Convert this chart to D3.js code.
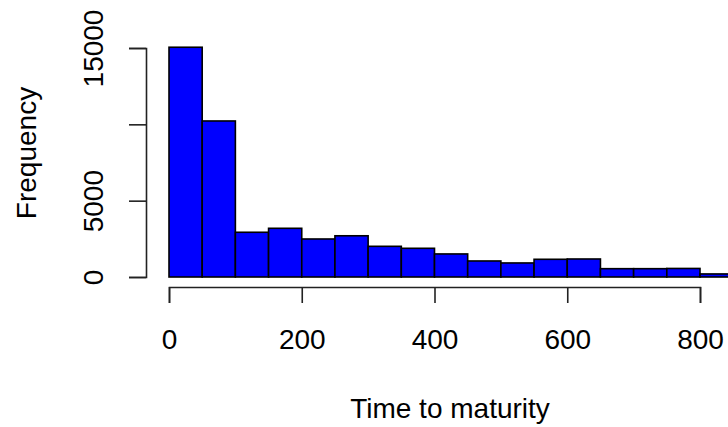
<!DOCTYPE html>
<html>
<head>
<meta charset="utf-8">
<script src="https://cdn.jsdelivr.net/npm/d3@7"></script>
<style>
  body { margin: 0; background: #fff; }
  text { font-family: "Liberation Sans", Arial, sans-serif; fill: #000; }
</style>
</head>
<body>
<svg width="728" height="427"></svg>
<script>
// histogram bins (days) and counts
let binStarts = [0, 50, 100, 150, 200, 250, 300, 350, 400, 450, 500, 550, 600, 650, 700, 750, 800]
let binWidth = 50
let counts = [15050, 10220, 2930, 3190, 2490, 2700, 2010, 1880, 1510, 1050, 920, 1160, 1180, 545, 545, 560, 200]
let xTicks = [0, 200, 400, 600, 800]
let yTicks = [0, 5000, 10000, 15000]
// R drops the 10000 label because it would overlap its neighbours
let yLabels = ['0', '5000', '', '15000']
let xTitle = 'Time to maturity', yTitle = 'Frequency'

let svg = d3.select('svg')

let x = d3.scaleLinear().domain([0, 800]).range([169, 700])
let y = d3.scaleLinear().domain([0, 15000]).range([277, 48])

let bins = binStarts.map(function (s, i) { return {x0: s, x1: s + binWidth, n: counts[i]} })

svg.selectAll('rect')
  .data(bins)
  .join('rect')
  .attr('x', function (d) { return x(d.x0) })
  .attr('y', function (d) { return y(d.n) })
  .attr('width', function (d) { return x(d.x1) - x(d.x0) })
  .attr('height', function (d) { return y(0) - y(d.n) })
  .style('fill', '#0000ff')
  .style('stroke', '#000')
  .style('stroke-width', 1.6)

// x axis
let gx = svg.append('g')
  .attr('transform', 'translate(0,287)')
  .call(d3.axisBottom(x).tickValues(xTicks).tickSize(16).tickFormat(d3.format('d')))
gx.selectAll('path, line').style('stroke', '#222').style('stroke-width', 1.6)
gx.selectAll('text')
  .attr('y', 62)
  .attr('dy', null)
  .style('font-size', '28px')
  .style('font-family', '"Liberation Sans", Arial, sans-serif')
  .style('fill', '#000')

// y axis
let gy = svg.append('g')
  .attr('transform', 'translate(146,0)')
  .call(d3.axisLeft(y).tickValues(yTicks).tickSize(17)
    .tickFormat(function (d, i) { return yLabels[i] }))
gy.selectAll('path, line').style('stroke', '#222').style('stroke-width', 1.6)
gy.selectAll('text')
  .attr('x', null)
  .attr('dy', null)
  .attr('text-anchor', 'middle')
  .attr('transform', 'translate(-43,0) rotate(-90)')
  .style('font-size', '28px')
  .style('font-family', '"Liberation Sans", Arial, sans-serif')
  .style('fill', '#000')

gx.select('.domain').attr('fill', 'none')
gy.select('.domain').attr('fill', 'none')

// titles
svg.append('text')
  .attr('x', 450)
  .attr('y', 418)
  .attr('text-anchor', 'middle')
  .style('font-size', '28px')
  .text(xTitle)

svg.append('text')
  .attr('transform', 'translate(36,153) rotate(-90)')
  .attr('text-anchor', 'middle')
  .style('font-size', '28px')
  .text(yTitle)
</script>
</body>
</html>
